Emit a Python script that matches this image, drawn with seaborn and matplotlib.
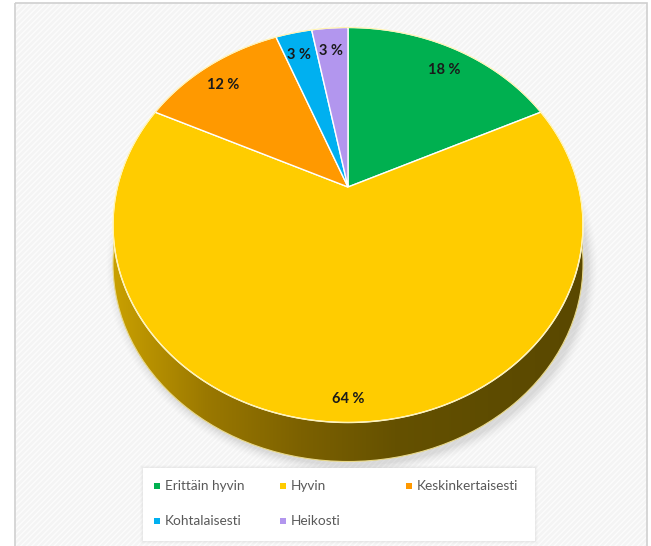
import numpy as np
import matplotlib
matplotlib.use("Agg")
import matplotlib.pyplot as plt
import seaborn as sns
from matplotlib.patches import Rectangle, Ellipse
from matplotlib.path import Path
from matplotlib.transforms import Transform
from matplotlib.colors import LinearSegmentedColormap

sns.set_theme(style="white")
plt.rcParams['font.family'] = ['Lato', 'DejaVu Sans']

# data
categories = ["Erittäin hyvin", "Hyvin", "Keskinkertaisesti", "Kohtalaisesti", "Heikosti"]
shares = [18, 64, 12, 3, 3]
colors = ["#00B050", "#FFCC00", "#FF9900", "#00B0F0", "#B296EE"]

W, H = 651, 546
# pie geometry in pixels (tilted disc seen in perspective)
cx, cy = 348, 225
rx, ry = 235, 197.5
apex_lift = 38
depth = 39
label_drop = 8


class Tilt(Transform):
    """unit-disc coords -> pixel coords, simple perspective (homography)"""
    input_dims = output_dims = 2
    has_inverse = False

    def __init__(self):
        super().__init__()
        self.k = apex_lift / ry
        self.A = rx * np.sqrt(1 - self.k ** 2)

    def transform_non_affine(self, values):
        values = np.asarray(values, float)
        u, v = values[:, 0], values[:, 1]
        den = 1 + self.k * v
        return np.column_stack([cx + self.A * u / den, cy - ry * (v + self.k) / den])

    def transform_path_non_affine(self, path):
        pts = []
        t = np.linspace(0, 1, 40)
        for seg, code in path.iter_bezier():
            pts.append(seg(t))
        pts = np.vstack(pts)
        return Path(self.transform_non_affine(pts), closed=True)


fig = plt.figure(figsize=(W / 100, H / 100), dpi=100)
fig.patch.set_facecolor("white")

ax = fig.add_axes([0, 0, 1, 1])
ax.patch.set_alpha(0)

# background panel with faint diagonal stripes
ax.add_patch(Rectangle((15, 3), 632, 545, facecolor="#F4F4F4", edgecolor="#FCFCFC",
                       lw=0, hatch="//////", zorder=0))
ax.add_patch(Rectangle((15, 3), 632, 545, facecolor="none", edgecolor="#D0D0D0",
                       lw=1.2, zorder=0.1))

# soft shadow under the pie
for i, a in enumerate(np.linspace(0.05, 0.012, 7)):
    g = 3 * (i + 1)
    ax.add_patch(Ellipse((cx + 4, cy + depth + 3), 2 * rx + g, 2 * ry + g,
                         facecolor="#7A7A7A", edgecolor="none", alpha=a, zorder=0.5))

# side of the cylinder with gradient
side_cmap = LinearSegmentedColormap.from_list(
    "side", ["#C9A000", "#9A7800", "#7C6100", "#655100", "#5E4C00", "#5A4800"])
grad = np.linspace(0, 1, 256).reshape(1, -1)
for clip in [Rectangle((cx - rx, cy), 2 * rx, depth, transform=ax.transData),
             Ellipse((cx, cy + depth), 2 * rx, 2 * ry, transform=ax.transData)]:
    im = ax.imshow(grad, cmap=side_cmap, extent=(cx - rx, cx + rx, cy + ry + depth, cy),
                   aspect="auto", zorder=1)
    im.set_clip_path(clip)
ax.add_patch(Ellipse((cx, cy + depth), 2 * rx, 2 * ry, facecolor="none",
                     edgecolor="#E8D88A", lw=0.8, zorder=1.5))

tilt = Tilt()
wedges, texts, autotexts = ax.pie(
    shares, colors=colors, startangle=90, counterclock=False,
    autopct=lambda p: f"{p:.0f} %", pctdistance=0.89,
    wedgeprops=dict(edgecolor="white", linewidth=1.0),
    textprops=dict(fontsize=10.5, fontweight="bold", color="#1A1A1A"))
for w in wedges:
    w.set_transform(tilt + ax.transData)
    w.set_zorder(3)
for t in autotexts:
    px, py = tilt.transform(np.array([t.get_position()]))[0]
    t.set_position((px, py + label_drop))
    t.set_zorder(4)
ax.add_patch(Ellipse((cx, cy), 2 * rx, 2 * ry, facecolor="none",
                     edgecolor="#FFF3B0", lw=0.8, zorder=3.5))

ax.set_aspect("auto")
ax.set_xlim(0, W)
ax.set_ylim(H, 0)
ax.axis("off")

# legend box
lg = fig.add_axes([0, 0, 1, 1])
lg.set_zorder(3)
lg.patch.set_alpha(0)
lg.set_xlim(0, W)
lg.set_ylim(H, 0)
lg.axis("off")
for i, a in enumerate([0.05, 0.035, 0.02]):
    lg.add_patch(Rectangle((143 - i - 1, 468 - i - 1), 392 + 2 * i + 2, 73 + 2 * i + 2,
                           facecolor="#808080", edgecolor="none", alpha=a))
lg.add_patch(Rectangle((143, 468), 392, 73, facecolor="white", edgecolor="none"))
for k, (lab, col) in enumerate(zip(categories, colors)):
    r, c = divmod(k, 3)
    x = 157 + c * 126
    y = 486 + r * 35
    lg.scatter([x], [y], marker="s", s=22, color=col, linewidths=0)
    lg.text(x + 8, y, lab, fontsize=9.8, color="#595959", va="center", ha="left")

fig.savefig("out.png", dpi=100, facecolor=fig.get_facecolor())
